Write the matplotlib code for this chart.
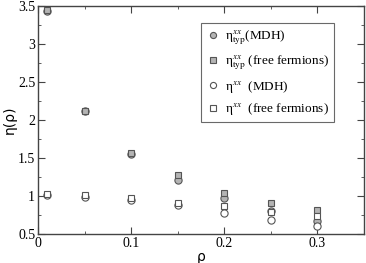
import matplotlib
matplotlib.use("Agg")
import matplotlib.pyplot as plt
from matplotlib.ticker import MultipleLocator

plt.rcParams['font.family'] = ['Liberation Serif', 'DejaVu Serif']
plt.rcParams['mathtext.fontset'] = 'stix'

rho = [0.01, 0.05, 0.1, 0.15, 0.2, 0.25, 0.3]
eta_typ_mdh = [3.43, 2.12, 1.55, 1.21, 0.98, 0.80, 0.67]
eta_typ_ff = [3.45, 2.12, 1.56, 1.28, 1.04, 0.91, 0.81]
eta_mdh = [1.01, 0.99, 0.95, 0.88, 0.77, 0.68, 0.60]
eta_ff = [1.03, 1.01, 0.97, 0.91, 0.87, 0.79, 0.74]

labels = [r"η$^{xx}_{\rm typ}$(MDH)",
          r"η$^{xx}_{\rm typ}$ (free fermions)",
          r"η$^{xx}$  (MDH)",
          r"η$^{xx}$  (free fermions)"]

fill = '#b4b4b4'
edge = '#555555'

fig = plt.figure(figsize=(3.66, 2.63), dpi=100)
ax = fig.add_axes([38/366, 1 - 234/263, 326/366, 228/263])

ax.plot(rho, eta_typ_mdh, 'o', ms=5.2, mfc=fill, mec=edge, mew=0.8, label=labels[0])
ax.plot(rho, eta_typ_ff, 's', ms=4.6, mfc=fill, mec=edge, mew=0.8, label=labels[1])
ax.plot(rho, eta_mdh, 'o', ms=5.2, mfc='white', mec=edge, mew=0.8, label=labels[2])
ax.plot(rho, eta_ff, 's', ms=4.6, mfc='white', mec=edge, mew=0.8, label=labels[3])

ax.set_xlim(0, 0.35)
ax.set_ylim(0.5, 3.5)
ax.xaxis.set_minor_locator(MultipleLocator(0.05))
ax.yaxis.set_minor_locator(MultipleLocator(0.25))
ax.set_xticks([0, 0.1, 0.2, 0.3])
ax.set_xticklabels(['0', '0.1', '0.2', '0.3'])
ax.set_yticks([0.5, 1, 1.5, 2, 2.5, 3, 3.5])
ax.set_yticklabels(['0.5', '1', '1.5', '2', '2.5', '3', '3.5'])
ax.tick_params(which='both', direction='in', top=True, right=True, labelsize=10,
               colors='#444444', labelcolor='black')
ax.tick_params(which='major', length=5, pad=2)
ax.tick_params(which='minor', length=2.5)
for s in ax.spines.values():
    s.set_color('#444444')
    s.set_linewidth(1.0)

ax.set_xlabel("ρ", family='DejaVu Sans', fontsize=10, labelpad=0)
ax.set_ylabel("η(ρ)", family='DejaVu Sans', fontsize=10, labelpad=1)

leg = ax.legend(loc='upper left', bbox_to_anchor=(0.5, 0.925), fontsize=9.5,
                frameon=True, fancybox=False, edgecolor='#444444',
                handletextpad=0.4, handlelength=1.0, borderpad=0.4,
                labelspacing=0.5, markerscale=0.85, borderaxespad=0)
leg.get_frame().set_linewidth(0.8)

fig.savefig("out.png", dpi=100)
